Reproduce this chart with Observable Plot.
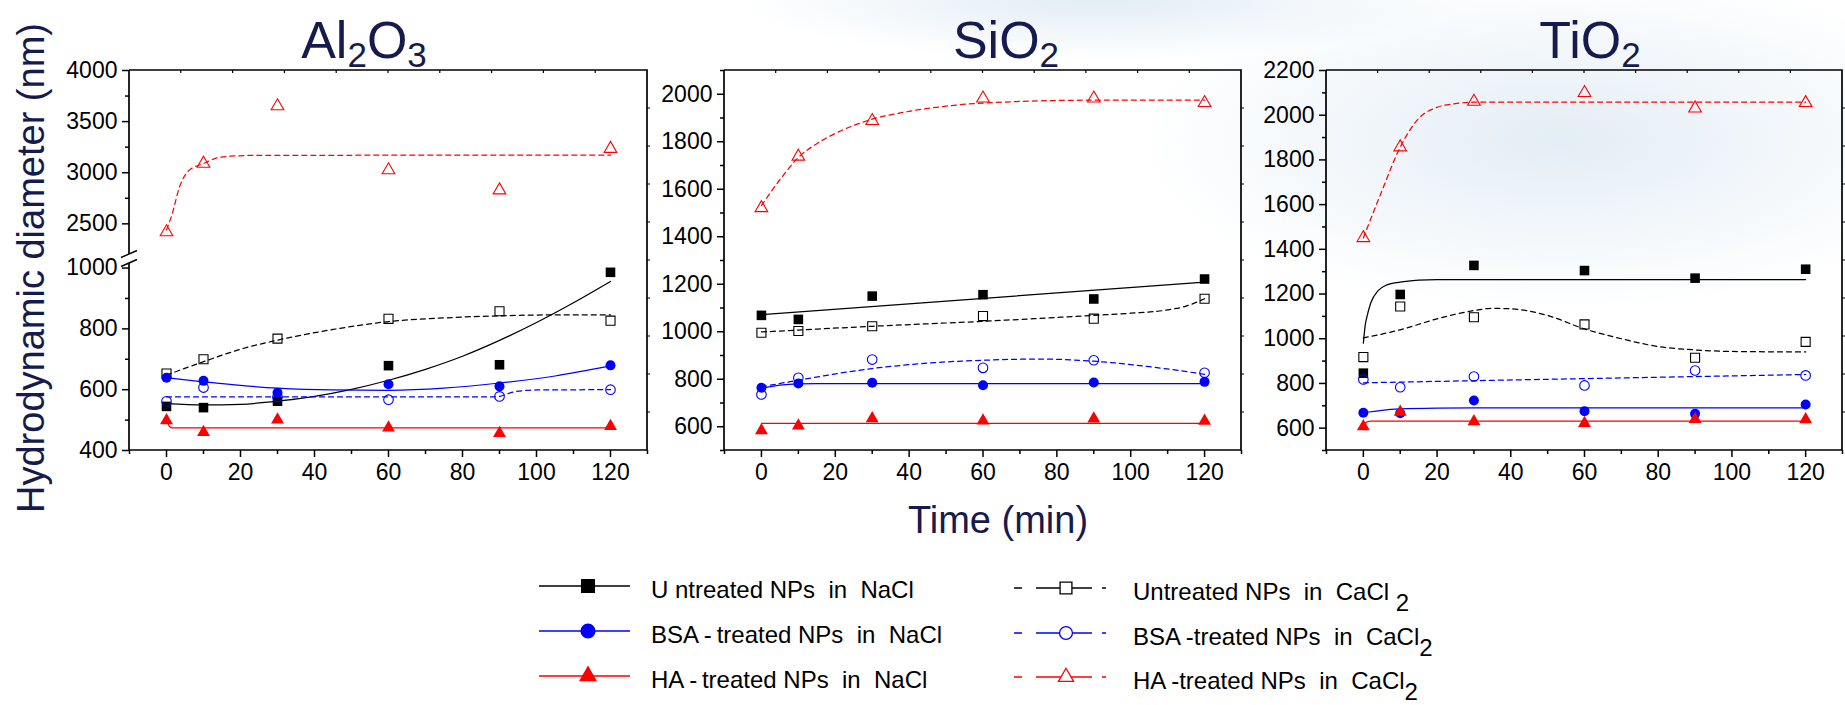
<!DOCTYPE html>
<html><head><meta charset="utf-8">
<script src="https://cdn.jsdelivr.net/npm/d3@7"></script>
<script src="https://cdn.jsdelivr.net/npm/@observablehq/plot@0.6"></script>
<style>
html,body{margin:0;padding:0}
body{width:1845px;height:705px;overflow:hidden;position:relative;background:#fff;font-family:Arial,"Liberation Sans",sans-serif;}
#bg{position:absolute;left:0;top:0;width:1845px;height:705px;background:
 radial-gradient(ellipse 420px 170px at 1560px 140px, rgba(200,220,235,0.5), rgba(200,220,235,0) 100%),
 radial-gradient(ellipse 360px 60px at 1100px 0px, rgba(196,218,234,0.5), rgba(196,218,234,0) 100%);}
.panel{position:absolute;top:0}
.title{position:absolute;top:14px;font-size:52px;line-height:1;color:#161a4c;transform:translateX(-50%);white-space:nowrap}
.title span{font-size:35px;position:relative;top:9px}
.ylab{position:absolute;left:31px;top:268px;font-size:38px;line-height:1;color:#161a4c;white-space:nowrap;transform:translate(-50%,-50%) rotate(-90deg)}
.xlab{position:absolute;left:998px;top:501px;font-size:38px;line-height:1;color:#161a4c;white-space:nowrap;transform:translateX(-50%)}
</style></head>
<body>
<div id="bg"></div>
<div class="title" style="left:364px">Al<span>2</span>O<span>3</span></div>
<div class="title" style="left:1006px">SiO<span>2</span></div>
<div class="title" style="left:1590px">TiO<span>2</span></div>
<div class="ylab">Hydrodynamic diameter (nm)</div>
<div class="xlab">Time (min)</div>
<script>
// ---------- data ----------
const times = [0, 10, 30, 60, 90, 120];
const seriesKeys = ["UN", "UC", "BN", "BC", "HN", "HC"];
const xMajor = [0, 20, 40, 60, 80, 100, 120];
const xMinor = [-10, 10, 30, 50, 70, 90, 110, 130];

// measured points (nm) at `times`
const al2o3Points = {
  UN: [545, 541, 562, 679, 682, 986],
  UC: [653, 700, 768, 833, 858, 827],
  BN: [639, 629, 590, 618, 611, 680],
  BC: [562, 607, 576, 567, 578, 600],
  HN: [499, 460, 501, 475, 457, 480],
  HC: [2419, 3090, 3652, 3026, 2829, 3235]
};
const sio2Points = {
  UN: [1069, 1052, 1150, 1156, 1138, 1222],
  UC: [996, 1003, 1023, 1066, 1055, 1139],
  BN: [764, 782, 785, 775, 786, 789],
  BC: [736, 806, 883, 848, 880, 827],
  HN: [584, 604, 635, 625, 634, 624],
  HC: [1521, 1738, 1888, 1983, 1983, 1964]
};
const tio2Points = {
  UN: [846, 1198, 1328, 1305, 1271, 1311],
  UC: [918, 1144, 1096, 1064, 915, 986],
  BN: [669, 667, 724, 676, 664, 706],
  BC: [818, 783, 831, 791, 858, 836],
  HN: [607, 672, 630, 622, 640, 639],
  HC: [1451, 1857, 2061, 2100, 2031, 2055]
};

// fitted curves: [time, nm]
const al2o3Fits = {
  UN: [[0,554],[10,550],[20,552],[30,562],[40,578],[50,601],[60,631],[70,667],[80,710],[90,762],[100,821],[110,886],[120,956]],
  UC: [[0,648],[10,692],[20,733],[30,763],[45,798],[60,824],[75,836],[90,843],[105,846],[120,846]],
  BN: [[0,639],[10,626],[20,614],[30,605],[45,599],[60,598],[75,605],[90,622],[105,645],[120,678]],
  BC: [[0,576],[88,576],[90,578],[92,586],[95,595],[100,599],[120,600]],
  HN: [[0,500],[0.5,485],[1,477],[2,474],[120,474]],
  HC: [[0,2440],[1.4,2580],[3.6,2870],[5.9,3016],[10,3090],[13.6,3145],[17,3161],[25,3170],[60,3171],[120,3171]]
};
const sio2Fits = {
  UN: [[0,1072],[120,1209]],
  UC: [[0,999],[30,1023],[60,1044],[90,1069],[100,1078],[110,1092],[115,1108],[120,1139]],
  BN: [[0,761],[5,775],[10,781],[15,782],[120,782]],
  BC: [[0,768],[10,796],[30,845],[45,868],[60,880],[75,885],[90,876],[105,853],[120,821]],
  HN: [[0,614],[120,614]],
  HC: [[0,1531],[5,1640],[10,1734],[15,1792],[20,1835],[30,1895],[40,1928],[50,1950],[60,1963],[90,1975],[120,1975]]
};
const tio2Fits = {
  UN: [[0,980],[0.5,1060],[1,1100],[2,1160],[4,1215],[6,1238],[10,1253],[15,1262],[20,1265],[120,1265]],
  UC: [[0,1004],[10,1040],[20,1089],[30,1126],[35,1136],[40,1134],[50,1104],[60,1044],[70,1000],[80,965],[90,950],[100,943],[120,941]],
  BN: [[0,669],[5,680],[10,686],[20,690],[30,691],[120,691]],
  BC: [[0,803],[120,840]],
  HN: [[0,612],[1,628],[2,631],[120,631]],
  HC: [[0,1451],[5,1660],[10,1857],[15,1985],[20,2035],[25,2052],[30,2058],[120,2058]]
};

// y axes
const al2o3YDomain = [400, 1015, 2200, 4000];
const al2o3YMajor = [400, 600, 800, 1000, 2500, 3000, 3500, 4000];
const al2o3YMinor = [500, 700, 900, 2750, 3250, 3750];
const sio2YDomain = [500, 2100];
const sio2YMajor = [600, 800, 1000, 1200, 1400, 1600, 1800, 2000];
const sio2YMinor = [500, 700, 900, 1100, 1300, 1500, 1700, 1900, 2100];
const tio2YDomain = [500, 2200];
const tio2YMajor = [600, 800, 1000, 1200, 1400, 1600, 1800, 2000, 2200];
const tio2YMinor = [500, 700, 900, 1100, 1300, 1500, 1700, 1900, 2100];

// legend
const legendLabels = {
  UN: ["U ntreated NPs  in  NaCl", null],
  BN: ["BSA\u2009-\u2009treated NPs  in  NaCl", null],
  HN: ["HA\u2009-\u2009treated NPs  in  NaCl", null],
  UC: ["Untreated NPs  in  CaCl ", "2"],
  BC: ["BSA\u2009-treated NPs  in  CaCl", "2"],
  HC: ["HA\u2009-treated NPs  in  CaCl", "2"]
};

// ---------- styles ----------
const sColor = {UN:"#000000", UC:"#000000", BN:"#0000ff", BC:"#0000ff", HN:"#ff0000", HC:"#ff0000"};
const sSymbol = {UN:"square", UC:"square", BN:"circle", BC:"circle", HN:"triangle", HC:"triangle"};
const sFilled = {UN:true, UC:false, BN:true, BC:false, HN:true, HC:false};
const sR = {UN:5.4, UC:5.1, BN:5.0, BC:4.8, HN:4.8, HC:4.7};
const FONT = 'Arial, "Liberation Sans", sans-serif';

function frameMark(brk) {
  return (index, scales, values, dims) => {
    const {width, height, marginLeft: l, marginRight: r, marginTop: t, marginBottom: b} = dims;
    const x0 = l, x1 = width - r, y0 = t, y1 = height - b;
    const g = d3.create("svg:g").attr("fill", "none").attr("stroke", "#000");
    let d = `M${x0},${y0}H${x1}V${y1}H${x0}`;
    let ya, yb;
    if (brk) {
      yb = scales.y(brk[0]); ya = scales.y(brk[1]);
      d += `V${yb}M${x0},${ya}V${y0}`;
    } else d += `V${y0}`;
    g.append("path").attr("d", d).attr("stroke-width", 1.7);
    if (brk) for (const yc of [ya, yb]) g.append("path").attr("d", `M${x0-8},${yc+3.5}L${x0+8},${yc-3.5}`).attr("stroke-width", 1.4);
    const tk = [];
    for (let i = 1; i < 10; i++) {
      const x = x0 + (x1 - x0) * i / 10; tk.push(`M${x},${y0}v3`);
      const y = y0 + (y1 - y0) * i / 10; tk.push(`M${x1},${y}h3`);
    }
    g.append("path").attr("d", tk.join("")).attr("stroke-width", 1.2);
    return g.node();
  };
}

function panel({points, fits, yDomain, yRange, yMajor, yMinor, frameW, frameLeft, mr, brk}) {
  const ml = 75, mt = 70, mb = 55, H = 505;
  const width = ml + frameW + mr;
  const ptRows = seriesKeys.flatMap(k => points[k].map((v, i) => ({k, t: times[i], v})));
  const fitRows = seriesKeys.flatMap(k => fits[k].map(([t, v]) => ({k, t, v})));
  const marks = [frameMark(brk)];
  for (const k of seriesKeys) {
    const o = {x: "t", y: "v", stroke: sColor[k], strokeWidth: 1.25, curve: "monotone-x"};
    if (!sFilled[k]) o.strokeDasharray = "5,4";
    marks.push(Plot.line(fitRows.filter(d => d.k === k), o));
  }
  for (const k of seriesKeys) {
    marks.push(Plot.dot(ptRows.filter(d => d.k === k), {
      x: "t", y: "v", symbol: sSymbol[k], r: sR[k],
      fill: sFilled[k] ? sColor[k] : "none",
      stroke: sFilled[k] ? "none" : sColor[k], strokeWidth: 1.1
    }));
  }
  marks.push(
    Plot.axisX({ticks: xMajor, tickSize: 7, tickPadding: 6, tickFormat: d => String(d), label: null, strokeWidth: 1.5, fontSize: 23}),
    Plot.axisX({ticks: xMinor, tickSize: 4, tickFormat: () => "", label: null, strokeWidth: 1.5}),
    Plot.axisY({ticks: yMajor, tickSize: 7, tickPadding: 5, tickFormat: d => String(d), label: null, strokeWidth: 1.5, fontSize: 23}),
    Plot.axisY({ticks: yMinor, tickSize: 4, tickFormat: () => "", label: null, strokeWidth: 1.5})
  );
  const svg = Plot.plot({
    width, height: H, marginLeft: ml, marginRight: mr, marginTop: mt, marginBottom: mb,
    x: {domain: [-10, 130], range: [ml, ml + frameW], label: null},
    y: {type: "linear", domain: yDomain, range: yRange, label: null},
    style: {background: "transparent", color: "#000", fontFamily: FONT, fontSize: "23px", overflow: "visible"},
    marks
  });
  svg.classList.add("panel");
  svg.style.position = "absolute";
  svg.style.left = (frameLeft - ml) + "px";
  svg.style.top = "0px";
  svg.style.maxWidth = "none";
  document.body.appendChild(svg);
}

panel({points: al2o3Points, fits: al2o3Fits, yDomain: al2o3YDomain, yRange: [450, 263, 254, 70],
  yMajor: al2o3YMajor, yMinor: al2o3YMinor, frameW: 518, frameLeft: 129, mr: 6, brk: [1015, 2200]});
panel({points: sio2Points, fits: sio2Fits, yDomain: sio2YDomain, yRange: [450, 70],
  yMajor: sio2YMajor, yMinor: sio2YMinor, frameW: 517, frameLeft: 724, mr: 6});
panel({points: tio2Points, fits: tio2Fits, yDomain: tio2YDomain, yRange: [450, 70],
  yMajor: tio2YMajor, yMinor: tio2YMinor, frameW: 516, frameLeft: 1326, mr: 3});

// ---------- legend ----------
const lg = d3.select("body").append("svg")
  .attr("width", 1845).attr("height", 705)
  .style("position", "absolute").style("left", 0).style("top", 0).style("pointer-events", "none")
  .style("font-family", FONT);
const symbolType = {square: d3.symbolSquare, circle: d3.symbolCircle, triangle: d3.symbolTriangle};
const legendCols = [
  {keys: ["UN", "BN", "HN"], x1: 539, x2: 630, mx: 588, tx: 651, rows: [586, 631, 676], base: [598, 643, 688], dash: null},
  {keys: ["UC", "BC", "HC"], x1: 1014, x2: 1106, mx: 1066, tx: 1133, rows: [588, 633, 677], base: [600, 645, 689], dash: "8,14,56,10,8"}
];
const legendSize = {UN: 196, UC: 140, BN: 180, BC: 130, HN: 140, HC: 100};
for (const col of legendCols) {
  col.keys.forEach((k, i) => {
    const y = col.rows[i];
    const ln = lg.append("line").attr("x1", col.x1).attr("x2", col.x2).attr("y1", y).attr("y2", y)
      .attr("stroke", sColor[k]).attr("stroke-width", 1.4);
    if (col.dash) ln.attr("stroke-dasharray", col.dash);
    lg.append("path").attr("transform", `translate(${col.mx},${y})`)
      .attr("d", d3.symbol(symbolType[sSymbol[k]], legendSize[k])())
      .attr("fill", sFilled[k] ? sColor[k] : "#fff")
      .attr("stroke", sFilled[k] ? "none" : sColor[k]).attr("stroke-width", 1.3);
    const [main, sub] = legendLabels[k];
    const t = lg.append("text").attr("x", col.tx).attr("y", col.base[i]).attr("font-size", 24)
      .attr("fill", "#000").style("white-space", "pre");
    t.append("tspan").text(main);
    if (sub) t.append("tspan").attr("dy", 11).text(sub);
  });
}
</script>
</body></html>
